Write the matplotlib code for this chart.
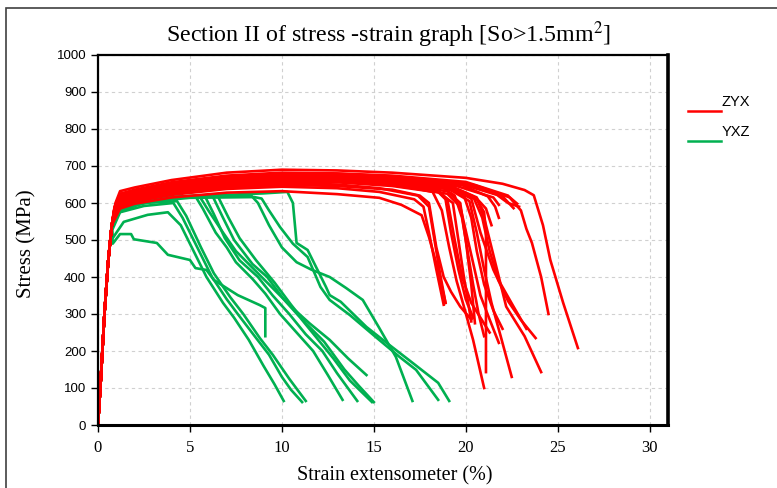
import matplotlib
matplotlib.use("Agg")
import matplotlib.pyplot as plt
from matplotlib.lines import Line2D
from matplotlib.patches import Rectangle

# common elastic part of every specimen (strain %, stress MPa)
elastic = [(0, 0), (0.15, 120), (0.35, 300), (0.55, 440), (0.75, 540)]

# ZYX specimens
zyx = [
    [(0.95, 600), (1.2, 632), (2, 642), (4, 662), (7, 682), (10, 690), (13, 688), (16, 682), (20, 668), (22, 652), (23.2, 635), (23.7, 621), (24.2, 540), (24.6, 446), (25.3, 330), (26.1, 208)],
    [(0.95, 595), (1.2, 625), (2, 636), (4, 656), (7, 674), (10, 682), (13, 680), (16, 674), (20, 657), (22.3, 620), (23.0, 580), (23.3, 530), (23.6, 492), (24.1, 400), (24.5, 300)],
    [(0.95, 590), (1.2, 618), (2, 630), (4, 650), (7, 668), (10, 676), (13, 675), (16, 667), (19, 650), (20.6, 615), (21.0, 560), (21.3, 500), (21.7, 420), (22.2, 320), (23.2, 240), (24.1, 143)],
    [(0.9, 585), (1.2, 612), (2, 626), (4, 646), (7, 664), (10, 672), (13, 670), (16, 662), (19, 645), (20.3, 612), (20.8, 520), (21.5, 420), (22.3, 335), (23.0, 284), (23.8, 235)],
    [(0.9, 580), (1.2, 608), (2, 622), (4, 642), (7, 660), (10, 668), (13, 666), (16, 658), (19, 640), (20.2, 605), (20.6, 520), (21.0, 420), (21.4, 330), (21.9, 240), (22.5, 130)],
    [(0.9, 575), (1.2, 605), (2, 618), (4, 638), (7, 656), (10, 664), (13, 662), (16, 652), (18.2, 630), (18.7, 580), (19.1, 480), (19.5, 390), (19.9, 320), (20.4, 230), (21.0, 100)],
    [(0.9, 580), (1.2, 606), (2, 620), (4, 640), (7, 658), (10, 666), (13, 664), (16, 655), (19, 640), (20.6, 610), (21.0, 575), (21.1, 520), (21.1, 143)],
    [(0.9, 570), (1.2, 600), (2, 614), (4, 634), (7, 652), (10, 660), (13, 658), (16, 648), (18.5, 630), (19.3, 600), (19.6, 500), (19.9, 400), (20.3, 280)],
    [(0.9, 572), (1.2, 602), (2, 616), (4, 636), (7, 654), (10, 662), (13, 660), (16, 650), (19, 632), (19.7, 600), (20.0, 500), (20.3, 380), (20.5, 275)],
    [(0.9, 565), (1.2, 596), (2, 610), (4, 628), (7, 646), (10, 654), (13, 650), (15.3, 640), (17.4, 620), (18.0, 590), (18.3, 500), (18.6, 410), (18.9, 330)],
    [(0.9, 560), (1.2, 590), (2, 604), (4, 622), (7, 638), (10, 644), (13, 640), (15.3, 630), (17.2, 610), (17.7, 590), (18.0, 520), (18.4, 420), (18.8, 325)],
    [(0.9, 575), (1.2, 604), (2, 618), (4, 638), (7, 657), (10, 665), (13, 664), (16, 656), (19.5, 635), (20.6, 612), (21.1, 585), (21.4, 540)],
    [(0.9, 568), (1.2, 598), (2, 612), (4, 632), (7, 650), (10, 658), (13, 656), (16, 646), (19, 625), (19.7, 590), (20.3, 460), (20.8, 350), (21.3, 285), (21.8, 222)],
    [(0.9, 555), (1.2, 585), (2, 598), (4, 615), (7, 628), (10, 632), (13, 624), (15.3, 614), (16.5, 595), (17.6, 567), (18.0, 508), (18.5, 419), (18.9, 330)],
    [(0.9, 585), (1.2, 614), (2, 628), (4, 648), (7, 666), (10, 674), (13, 672), (16, 664), (19.5, 646), (21.5, 615), (21.8, 595)],
    [(0.9, 590), (1.2, 620), (2, 632), (4, 652), (7, 670), (10, 678), (13, 677), (16, 670), (20, 652), (22.0, 618), (22.6, 586)],
    [(0.9, 578), (1.2, 608), (2, 621), (4, 641), (7, 659), (10, 667), (13, 665), (16, 657), (18.8, 640), (19.4, 620), (19.8, 560), (20.1, 470), (20.4, 380), (20.7, 300), (21.0, 240)],
    [(0.9, 574), (1.2, 603), (2, 617), (4, 637), (7, 655), (10, 663), (13, 661), (16, 651), (18.5, 634), (19.0, 610), (19.4, 500), (19.8, 400), (20.3, 330), (20.8, 290), (21.3, 250)],
    [(0.9, 582), (1.2, 611), (2, 624), (4, 644), (7, 662), (10, 670), (13, 668), (16, 660), (19.2, 644), (20.4, 618), (20.9, 560), (21.3, 470), (21.8, 390), (22.6, 320), (23.3, 260)],
    [(0.9, 563), (1.2, 593), (2, 607), (4, 625), (7, 642), (10, 649), (13, 646), (16, 636), (17.5, 620), (18.0, 600), (18.4, 480), (18.8, 400), (19.2, 360), (19.7, 320), (20.3, 285)],
    [(0.95, 592), (1.2, 622), (2, 634), (4, 654), (7, 672), (10, 680), (13, 679), (16, 672), (19.5, 655), (21.7, 622), (22.3, 600), (22.9, 590)],
    [(0.9, 586), (1.2, 616), (2, 629), (4, 649), (7, 667), (10, 675), (13, 673), (16, 666), (19.8, 648), (21.2, 618), (21.6, 590), (21.8, 560)],
    [(0.9, 583), (1.2, 612), (2, 625), (4, 645), (7, 663), (10, 671), (13, 669), (16, 661), (18.9, 645), (19.9, 620), (20.3, 560), (20.6, 470), (21.0, 380), (21.5, 310), (22.0, 260)],
    [(0.9, 588), (1.2, 617), (2, 630), (4, 651), (7, 669), (10, 677), (13, 676), (16, 669), (20.5, 648), (22.4, 615), (22.8, 598)],
    [(0.9, 577), (1.2, 607), (2, 620), (4, 640), (7, 658), (10, 666), (13, 664), (16, 656), (18.3, 640), (18.9, 610), (19.2, 520), (19.6, 420), (20.0, 340), (20.4, 290)],
]

# YXZ specimens
yxz = [
    [(0.8, 490), (1.2, 516), (1.8, 516), (1.95, 502), (3.2, 492), (3.8, 460), (5.0, 446), (5.3, 424), (5.9, 419), (6.3, 392), (7.6, 351), (8.8, 324), (9.1, 316), (9.1, 240)],
    [(0.8, 505), (1.4, 549), (2.7, 568), (3.8, 575), (4.5, 540), (5.2, 470), (5.9, 400), (6.8, 330), (7.4, 290), (8.2, 230), (9.0, 160), (9.6, 110), (10.1, 65)],
    [(0.8, 530), (1.2, 575), (2.5, 592), (4.1, 600), (4.6, 560), (5.4, 480), (6.2, 400), (7.0, 340), (7.6, 300), (8.6, 235), (9.3, 190), (10.0, 130), (10.5, 95), (11.1, 62)],
    [(0.8, 540), (1.2, 585), (2.5, 600), (4.3, 605), (4.8, 565), (5.6, 480), (6.3, 410), (7.2, 345), (7.9, 300), (8.8, 235), (9.5, 190), (10.4, 125), (11.3, 65)],
    [(0.9, 560), (1.3, 595), (3, 610), (5.3, 618), (5.7, 585), (6.4, 520), (7.0, 480), (7.5, 440), (8.4, 395), (9.1, 355), (9.9, 300), (10.8, 250), (11.7, 200), (12.5, 135), (13.3, 68)],
    [(0.9, 565), (1.3, 598), (3, 612), (5.8, 620), (6.3, 570), (6.9, 505), (7.7, 445), (8.7, 400), (9.5, 350), (10.4, 300), (11.3, 245), (12.2, 200), (13.0, 140), (14.1, 65)],
    [(0.9, 570), (1.3, 600), (3, 614), (6.2, 622), (6.8, 560), (7.4, 500), (8.4, 435), (9.2, 400), (10.1, 340), (11.0, 290), (11.9, 235), (12.8, 180), (13.7, 120), (14.9, 62)],
    [(0.9, 568), (1.3, 599), (3, 613), (6.5, 620), (7.1, 560), (7.7, 505), (8.6, 445), (9.6, 385), (10.5, 325), (11.3, 275), (12.3, 225), (13.4, 150), (14.2, 105), (15.0, 62)],
    [(1.0, 580), (3, 605), (5, 614), (8.5, 616), (8.9, 612), (9.3, 580), (9.9, 535), (10.6, 490), (11.4, 454), (12.1, 373), (12.6, 338), (13.7, 297), (15.1, 238), (16.4, 184), (17.3, 149), (18.5, 68)],
    [(1.0, 585), (3, 608), (6, 620), (9.0, 626), (10.3, 630), (10.6, 600), (10.8, 492), (11.4, 473), (12.4, 373), (12.6, 351), (13.2, 333), (14.6, 265), (15.7, 222), (16.9, 176), (18.5, 114), (19.1, 65)],
    [(0.9, 570), (3, 612), (5.5, 620), (6.0, 580), (6.8, 520), (7.5, 470), (8.5, 420), (9.5, 370), (10.5, 320), (11.5, 275), (12.6, 230), (13.6, 180), (14.6, 135)],
    [(0.9, 575), (3, 614), (7.5, 620), (8.3, 622), (8.7, 600), (9.3, 540), (10.0, 480), (10.8, 440), (11.6, 420), (12.6, 400), (13.5, 370), (14.4, 338), (15.3, 262), (16.2, 184), (17.1, 65)],
]

red = "#FF0000"
green = "#00B050"

fig = plt.figure(figsize=(7.77, 4.88), dpi=100)
ax = fig.add_axes([98 / 777, 63 / 488, 570 / 777, 370 / 488])

for pts in yxz:
    s, st = zip(*(elastic + pts))
    ax.plot(s, st, color=green, lw=1.9, solid_joinstyle="round")
for pts in zyx:
    s, st = zip(*(elastic + pts))
    ax.plot(s, st, color=red, lw=1.9, solid_joinstyle="round")

ax.set_xlim(0, 31)
ax.set_ylim(0, 1000)
ax.set_xticks(range(0, 31, 5))
ax.set_yticks(range(0, 1001, 100))
ax.grid(True, color="#D0D0D0", ls=(0, (3, 3)), lw=0.8)
ax.set_axisbelow(True)
for side in ax.spines:
    ax.spines[side].set_linewidth(1.6)
ax.spines["right"].set_linewidth(2.6)
ax.spines["bottom"].set_linewidth(2.2)
ax.tick_params(direction="out", length=5, width=1, color="black")
for lab in ax.get_yticklabels():
    lab.set_family("Liberation Sans")
    lab.set_fontsize(9.5)
for lab in ax.get_xticklabels():
    lab.set_family("Liberation Serif")
    lab.set_fontsize(12)
ax.tick_params(axis="x", pad=6)

fig.text(27 / 777, 1 - 244 / 488, "Stress (MPa)", rotation=90, ha="center", va="center",
         family="Liberation Serif", fontsize=15)
fig.text(395 / 777, 1 - 476 / 488, "Strain extensometer (%)", ha="center", va="center",
         family="Liberation Serif", fontsize=14.5)
fig.text(0.5, 0.928, "Section II of stress -strain graph [So>1.5mm$^2$]",
         ha="center", va="center", family="Liberation Serif", fontsize=17.3,
         math_fontfamily="stix")

# legend drawn the way the spreadsheet does it
for name, col, yl in [("ZYX", red, 111), ("YXZ", green, 141)]:
    fig.add_artist(Line2D([688 / 777, 721 / 777], [1 - yl / 488, 1 - yl / 488], color=col, lw=1.8))
    fig.text(722 / 777, 1 - (yl - 9) / 488, name, ha="left", va="center",
             family="Liberation Sans", fontsize=10.5)

# outer frame
fig.add_artist(Rectangle((6 / 777, -0.05), 1.2, 1 - 8 / 488 + 0.05, transform=fig.transFigure,
                         fill=False, edgecolor="#404040", lw=1.2))

fig.savefig("out.png", dpi=100)
